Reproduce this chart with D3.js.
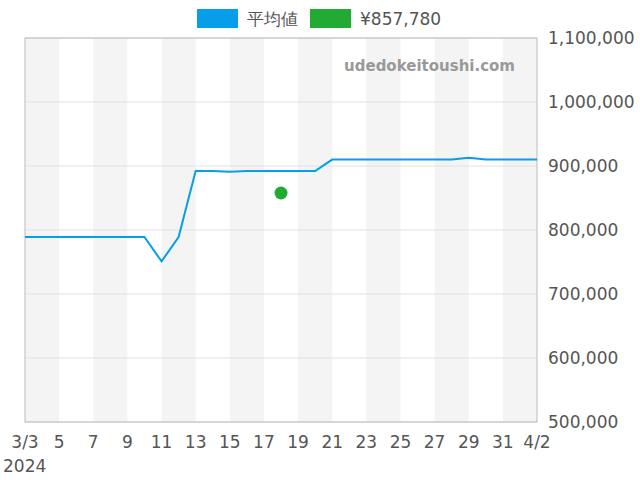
<!DOCTYPE html>
<html><head><meta charset="utf-8">
<script src="https://cdn.jsdelivr.net/npm/d3@7"></script>
<style>body{margin:0;background:#fff}text{font-family:"DejaVu Sans",sans-serif}</style>
</head><body><svg id="c" width="640" height="480"></svg>
<script>
const days = ["3/3","3/4","3/5","3/6","3/7","3/8","3/9","3/10","3/11","3/12","3/13","3/14","3/15","3/16","3/17","3/18","3/19","3/20","3/21","3/22","3/23","3/24","3/25","3/26","3/27","3/28","3/29","3/30","3/31","4/1","4/2"];
const avgValues = [789000,789000,789000,789000,789000,789000,789000,789000,751000,789000,892000,892000,891000,892000,892000,892000,892000,892000,910000,910000,910000,910000,910000,910000,910000,910000,913000,910000,910000,910000,910000];
const pointDay = "3/18", pointValue = 857780;
const xTickLabels = ["3/3","5","7","9","11","13","15","17","19","21","23","25","27","29","31","4/2"];
const yTicks = [500000,600000,700000,800000,900000,1000000,1100000];
const legendLabels = ["平均値","¥857,780"];
const colors = ["#069ee8","#22aa33"];

const svg = d3.select("#c");
const L=25,R=537,T=38,B=422;
const x = d3.scaleLinear().domain([0,days.length-1]).range([L,R]);
const y = d3.scaleLinear().domain([500000,1100000]).range([B,T]);
for(let i=0;i<days.length-1;i+=4){
  svg.append("rect").attr("x",x(i)).attr("y",T).attr("width",x(i+2)-x(i)).attr("height",B-T).attr("fill","#f4f4f4");
}
yTicks.forEach(v=>{
  svg.append("line").attr("x1",L).attr("x2",R).attr("y1",y(v)).attr("y2",y(v)).attr("stroke","#e2e2e2");
  svg.append("text").attr("x",548).attr("y",y(v)+6).attr("font-size",17).attr("fill","#555").text(d3.format(",")(v));
});
svg.append("rect").attr("x",L).attr("y",T).attr("width",R-L).attr("height",B-T).attr("fill","none").attr("stroke","#bbb");
xTickLabels.forEach((t,k)=>{
  const i=k*2;
  svg.append("text").attr("x",x(i)).attr("y",448).attr("text-anchor","middle").attr("font-size",17).attr("fill","#555").text(t);
});
svg.append("text").attr("x",3).attr("y",472).attr("font-size",17).attr("fill","#555").text("2024");
svg.append("text").attr("x",515).attr("y",71).attr("text-anchor","end").attr("font-size",15).attr("font-weight","bold").attr("fill","#999").text("udedokeitoushi.com");
svg.append("path").datum(avgValues).attr("fill","none").attr("stroke",colors[0]).attr("stroke-width",2)
  .attr("d",d3.line().x((d,i)=>x(i)).y(d=>y(d)));
svg.append("circle").attr("cx",x(days.indexOf(pointDay))).attr("cy",y(pointValue)).attr("r",6.5).attr("fill",colors[1]);
const lx=[197,310];
legendLabels.forEach((t,i)=>{
  svg.append("rect").attr("x",lx[i]).attr("y",9).attr("width",41).attr("height",19).attr("fill",colors[i]);
  svg.append("text").attr("x",lx[i]+50).attr("y",25).attr("font-size",17).attr("fill","#555").text(t);
});
</script></body></html>
